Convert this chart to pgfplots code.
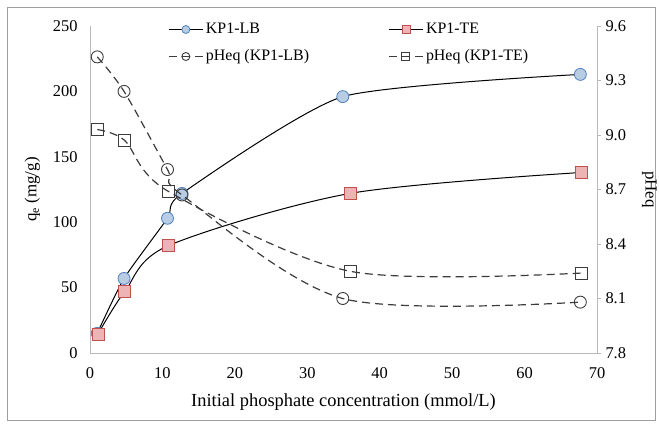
\documentclass[border=0pt]{standalone}
\usepackage{pgfplots}
\pgfplotsset{compat=1.18}
\usepackage{fontspec}
\setmainfont{Liberation Serif}
\definecolor{lbfill}{RGB}{184,204,228}
\definecolor{lbedge}{RGB}{79,129,189}
\definecolor{tefill}{RGB}{236,180,180}
\definecolor{teedge}{RGB}{192,80,77}
\definecolor{axgray}{RGB}{185,185,185}
\definecolor{dashgray}{RGB}{60,60,60}

\pgfplotsset{
  common/.style={
    scale only axis, width=507bp, height=327bp,
    at={(0,0)}, anchor=south west,
    xmin=0, xmax=70,
    font=\fontsize{16.5}{19}\selectfont,
    /pgf/number format/assume math mode=true,
    axis line style={axgray, line width=0.9bp},
    clip=false,
    legend columns=1,
    legend cell align=left,
    legend image code/.code={
      \draw[mark repeat=2, mark phase=2, ##1]
        plot coordinates {(0bp,0bp) (17bp,0bp) (34bp,0bp)};},
  },
  legbox/.style={draw=none, fill=none, anchor=north west, inner sep=0pt,
    row sep=6bp, font=\fontsize{16}{19}\selectfont,
    nodes={inner sep=2.5bp, text height=12bp, text depth=4bp}},
  qeline/.style={black, line width=1bp},
  phline/.style={dashgray, line width=1.2bp, dash pattern=on 8bp off 5bp},
}

\begin{document}
\begin{tikzpicture}[x=1bp,y=1bp]
\useasboundingbox (-90,-70) rectangle (569,353);
\draw[gray!75, line width=0.9bp] (-83,-67) rectangle (565,346);

%% left axis: qe
\begin{axis}[common,
  ymin=0, ymax=250,
  axis x line*=bottom, axis y line*=left,
  xtick={0,10,...,70}, ytick={0,50,...,250},
  major tick length=0pt,
  xticklabel style={yshift=-11bp},
  yticklabel style={xshift=-9bp},
  xlabel={Initial phosphate concentration (mmol/L)},
  xlabel style={yshift=-8bp, font=\fontsize{18.5}{21}\selectfont},
  ylabel={q\textsubscript{e} (mg/g)},
  ylabel style={yshift=6bp, font=\fontsize{17}{20}\selectfont},
  legend style={legbox, at={(0.154,1.022)}},
]
\addlegendimage{qeline, mark=*, mark size=4bp,
  mark options={fill=lbfill, draw=lbedge, line width=0.8bp}}
\addlegendentry{KP1-LB}
\addlegendimage{phline, mark=o, mark size=4bp,
  mark options={solid, draw=dashgray, line width=0.9bp}}
\addlegendentry{pHeq (KP1-LB)}
\addplot[qeline, smooth, tension=0.35, mark=*, forget plot,
  mark size=6bp, mark options={fill=lbfill, draw=lbedge, line width=0.8bp}]
  coordinates {(1,15) (4.7,57) (10.7,103) (12.7,122) (34.9,196) (67.7,213)};
\addplot[qeline, smooth, tension=0.5, mark=square*, forget plot,
  mark size=6bp, mark options={fill=tefill, draw=teedge, line width=0.8bp}]
  coordinates {(1.1,14.5) (4.8,47) (10.8,82) (35.9,122) (67.8,138)};
\end{axis}

%% right axis: pHeq
\begin{axis}[common,
  ymin=7.8, ymax=9.6,
  axis x line=none, axis y line*=right,
  ytick={7.8,8.1,...,9.6},
  yticklabel style={/pgf/number format/fixed, /pgf/number format/fixed zerofill,
    /pgf/number format/precision=1, xshift=1bp},
  tick align=outside, major tick length=4bp,
  tick style={axgray, line width=0.9bp},
  ylabel={pHeq},
  ylabel style={rotate=180, yshift=9bp, font=\fontsize{17}{20}\selectfont},
  legend style={legbox, at={(0.588,1.022)}},
]
\addlegendimage{qeline, mark=square*, mark size=4bp,
  mark options={fill=tefill, draw=teedge, line width=0.8bp}}
\addlegendentry{KP1-TE}
\addlegendimage{phline, mark=square, mark size=4bp,
  mark options={solid, draw=dashgray, line width=0.9bp}}
\addlegendentry{pHeq (KP1-TE)}
\addplot[phline, smooth, tension=0.5, forget plot,
  mark=o, mark size=6bp, mark options={solid, draw=dashgray, line width=0.9bp}]
  coordinates {(1,9.43) (4.7,9.24) (10.7,8.81) (12.7,8.67) (34.9,8.10) (67.7,8.08)};
\addplot[phline, smooth, tension=0.5, forget plot,
  mark=square, mark size=6bp, mark options={solid, draw=dashgray, line width=0.9bp}]
  coordinates {(1,9.03) (4.8,8.97) (10.8,8.69) (35.9,8.25) (67.8,8.24)};
\end{axis}
\end{tikzpicture}
\end{document}
